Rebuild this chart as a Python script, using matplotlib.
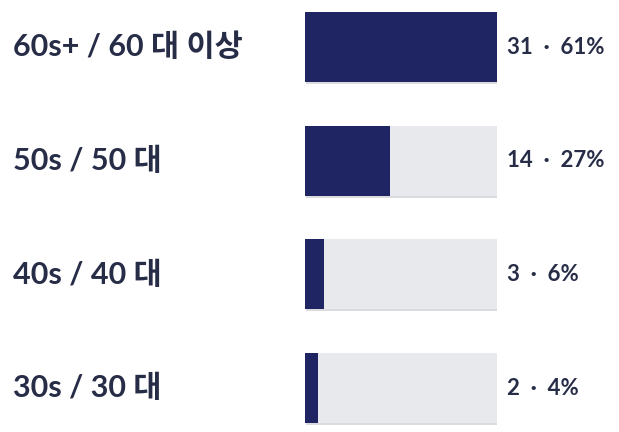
import matplotlib
matplotlib.use("Agg")
import matplotlib.pyplot as plt
import matplotlib.patheffects as pe
from matplotlib.transforms import blended_transform_factory

# ---- Data ----
labels = ["60s+ / 60 대 이상", "50s / 50 대", "40s / 40 대", "30s / 30 대"]
counts = [31, 14, 3, 2]
shares = [61, 27, 6, 4]

fill_color = "#1f2562"
track_color = "#e8e9ec"
text_color = "#272c47"
fonts = ["Lato", "Noto Sans CJK KR", "DejaVu Sans"]

W, H = 619, 432
fig = plt.figure(figsize=(W / 100, H / 100), dpi=100)
fig.patch.set_facecolor("white")

# axes spans the bar track horizontally, full height vertically
left_px, right_px = 305, 497
ax = fig.add_axes([left_px / W, 0, (right_px - left_px) / W, 1])
ax.set_axis_off()

top_center, step = 47, 113.7
ax.set_ylim((H - top_center) / step, -top_center / step)
scale_max = max(shares)
ax.set_xlim(0, scale_max)

y = list(range(len(labels)))
bar_h = 70 / step
shadow = [pe.SimplePatchShadow(offset=(0.6, -1.5), shadow_rgbFace="#9a9aa6", alpha=0.35), pe.Normal()]

ax.barh(y, [scale_max] * len(y), height=bar_h, color=track_color, path_effects=shadow, zorder=1)
ax.barh(y, shares, height=bar_h, color=fill_color, zorder=2)

trans = blended_transform_factory(fig.transFigure, ax.transData)
for yi, lab, c, s in zip(y, labels, counts, shares):
    ax.text(13 / W, yi, lab, transform=trans, ha="left", va="center",
            fontsize=22, fontweight="bold", color=text_color, family=fonts)
    ax.annotate(f"{c}  ·  {s}%", xy=(scale_max, yi), xytext=(7, 0), textcoords="offset points",
                ha="left", va="center", fontsize=16, fontweight="bold",
                color=text_color, family=fonts)

fig.savefig("out.png", dpi=100, facecolor="white")
